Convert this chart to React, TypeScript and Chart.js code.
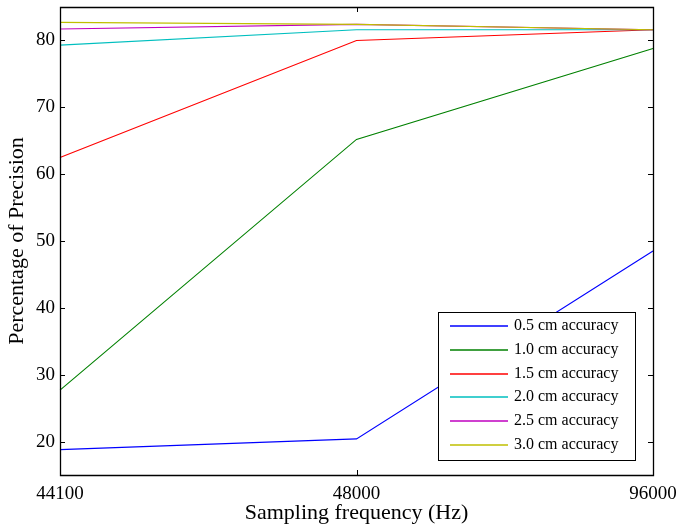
import React, { useEffect, useRef } from "react";
import { Chart, registerables } from "chart.js";

Chart.register(...registerables);

const categories = ["44100", "48000", "96000"];
const acc05 = [18.8, 20.4, 48.5];
const acc10 = [27.7, 65.2, 78.8];
const acc15 = [62.5, 80.0, 81.6];
const acc20 = [79.3, 81.6, 81.6];
const acc25 = [81.7, 82.4, 81.6];
const acc30 = [82.7, 82.4, 81.6];
const seriesLabels = [
  "0.5 cm accuracy",
  "1.0 cm accuracy",
  "1.5 cm accuracy",
  "2.0 cm accuracy",
  "2.5 cm accuracy",
  "3.0 cm accuracy",
];
const seriesColors = ["#0000ff", "#008000", "#ff0000", "#00bfbf", "#bf00bf", "#bfbf00"];
const yTicks = [20, 30, 40, 50, 60, 70, 80];

const FONT = "'Liberation Serif', 'Times New Roman', serif";

const framePlugin = {
  id: "frameLegend",
  afterDatasetsDraw(chart: any) {
    const ctx = chart.ctx as CanvasRenderingContext2D;
    const { left, right, top, bottom } = chart.chartArea;
    ctx.save();
    ctx.strokeStyle = "#000";
    ctx.lineWidth = 1.3;
    ctx.beginPath();
    ctx.rect(left + 0.5, top + 0.5, right - left, bottom - top);
    ctx.stroke();
    ctx.lineWidth = 1;
    const tl = 5;
    const ys = chart.scales.y;
    ys.ticks.forEach((t: any) => {
      const y = Math.round(ys.getPixelForValue(t.value)) + 0.5;
      ctx.beginPath();
      ctx.moveTo(left, y);
      ctx.lineTo(left + tl, y);
      ctx.moveTo(right, y);
      ctx.lineTo(right - tl, y);
      ctx.stroke();
    });
    const xs = chart.scales.x;
    categories.forEach((_, i) => {
      const x = Math.round(xs.getPixelForValue(i)) + 0.5;
      ctx.beginPath();
      ctx.moveTo(x, top);
      ctx.lineTo(x, top + tl);
      ctx.moveTo(x, bottom);
      ctx.lineTo(x, bottom - tl);
      ctx.stroke();
    });

    // legend
    const lx = 438, ly = 312, lw = 197, lh = 148;
    ctx.fillStyle = "#fff";
    ctx.fillRect(lx, ly, lw, lh);
    ctx.strokeStyle = "#000";
    ctx.lineWidth = 1;
    ctx.strokeRect(lx + 0.5, ly + 0.5, lw, lh);
    ctx.font = `16px ${FONT}`;
    ctx.textBaseline = "middle";
    ctx.textAlign = "left";
    seriesLabels.forEach((label, i) => {
      const y = Math.round(ly + 14 + i * 23.8);
      ctx.strokeStyle = seriesColors[i];
      ctx.lineWidth = 1.6;
      ctx.beginPath();
      ctx.moveTo(450, y);
      ctx.lineTo(508, y);
      ctx.stroke();
      ctx.fillStyle = "#000";
      ctx.fillText(label, 514, y);
    });
    ctx.restore();
  },
};

export default function App() {
  const ref = useRef<HTMLCanvasElement>(null);
  useEffect(() => {
    if (!ref.current) return;
    const seriesData = [acc05, acc10, acc15, acc20, acc25, acc30];
    const chart = new Chart(ref.current, {
      type: "line",
      data: {
        labels: categories,
        datasets: seriesData.map((d, i) => ({
          label: seriesLabels[i],
          data: d,
          borderColor: seriesColors[i],
          backgroundColor: seriesColors[i],
          borderWidth: 1.1,
          pointRadius: 0,
          tension: 0,
          fill: false,
          order: seriesData.length - i,
        })),
      },
      options: {
        responsive: false,
        animation: false,
        devicePixelRatio: 1,
        layout: { padding: { top: 7, right: 23, left: 0, bottom: 0 } },
        plugins: {
          legend: { display: false },
          tooltip: { enabled: false },
        },
        scales: {
          x: {
            type: "category",
            offset: false,
            grid: { display: false, drawTicks: false },
            border: { display: false },
            ticks: {
              color: "#000",
              font: { family: FONT, size: 19 },
              padding: 8,
              maxRotation: 0,
              autoSkip: false,
            },
            title: {
              display: true,
              text: "Sampling frequency (Hz)",
              color: "#000",
              font: { family: FONT, size: 22, lineHeight: 1 },
              padding: { top: 0, bottom: 1 },
            },
            afterFit(scale: any) {
              scale.height = 50;
              scale.paddingLeft = 0;
              scale.paddingRight = 0;
            },
          },
          y: {
            min: 15,
            max: 85,
            grid: { display: false, drawTicks: false },
            border: { display: false },
            afterBuildTicks(scale: any) {
              scale.ticks = yTicks.map((v) => ({ value: v }));
            },
            ticks: {
              color: "#000",
              font: { family: FONT, size: 19 },
              padding: 5,
            },
            title: {
              display: true,
              text: "Percentage of Precision",
              color: "#000",
              font: { family: FONT, size: 22, lineHeight: 1 },
              padding: { top: 6, bottom: 0 },
            },
            afterFit(scale: any) {
              scale.width = 60;
              scale.paddingTop = 0;
              scale.paddingBottom = 0;
            },
          },
        },
      },
      plugins: [framePlugin],
    });
    return () => chart.destroy();
  }, []);
  return (
    <div style={{ position: "fixed", left: 0, top: 0, width: 676, height: 525, background: "#fff" }}>
      <canvas ref={ref} width={676} height={525} style={{ display: "block" }} />
    </div>
  );
}
